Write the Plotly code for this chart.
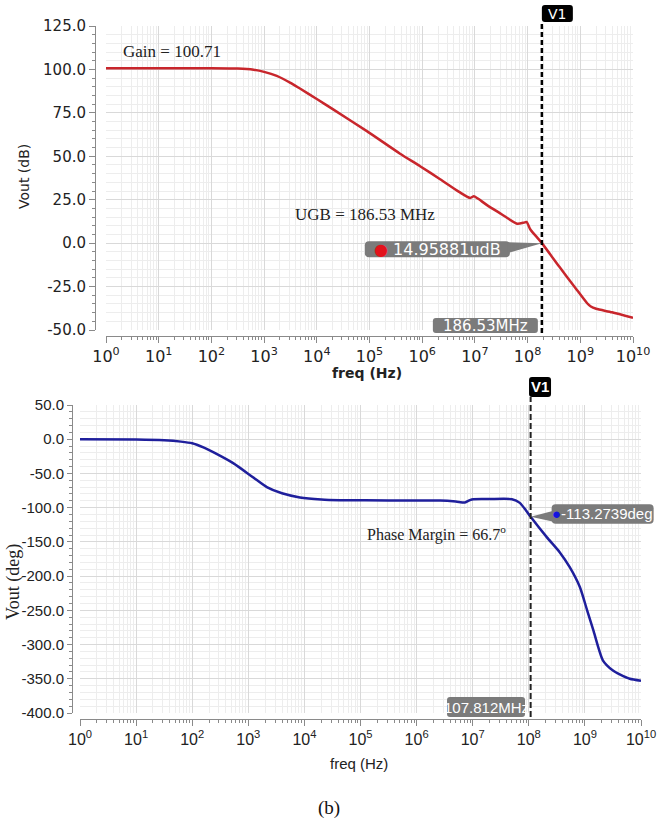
import math
import plotly.graph_objects as go

W, H = 668, 823

# ---------------- data ----------------
# magnitude response: log10(frequency / Hz) and gain in dB
gain_log_f = [0.0, 1.0, 2.0, 2.5, 2.8, 3.0, 3.24, 3.5, 3.68, 4.0, 4.31, 4.95, 5.58,
              5.96, 6.34, 6.7, 6.91, 6.98, 7.05, 7.23, 7.5, 7.8, 7.93, 7.98, 8.05,
              8.15, 8.2708, 8.6, 8.9, 9.13, 9.2, 9.3, 9.6, 10.0]
gain_db = [100.71, 100.71, 100.7, 100.5, 99.8, 98.6, 96.3, 92.3, 89.0, 83.0, 77.0,
           64.5, 51.5, 44.3, 36.8, 29.5, 26.0, 27.0, 25.8, 21.9, 16.8, 11.2, 11.8,
           12.2, 8.0, 4.3, 14.95881e-6, -13.5, -25.5, -34.6, -36.5, -37.8, -39.8, -43.0]

# phase response: log10(frequency / Hz) and phase in degrees
phase_log_f = [0.0, 1.0, 1.5, 1.8, 2.0, 2.2, 2.4, 2.73, 3.09, 3.33, 3.6, 3.92, 4.3, 4.63,
               5.5, 6.42, 6.7, 6.86, 6.95, 7.01, 7.3, 7.7, 7.84, 7.95, 8.0327, 8.32,
               8.55, 8.73, 8.91, 9.04, 9.15, 9.32, 9.5, 9.63, 9.8, 10.0]
phase_deg = [0.0, -0.4, -1.5, -3.5, -6.0, -12.0, -20.0, -35.0, -56.0, -70.0, -79.0, -85.0,
             -88.0, -89.0, -89.5, -89.5, -91.0, -92.5, -89.0, -87.6, -87.4, -87.6,
             -93.0, -104.0, -113.2739, -143.0, -165.0, -187.0, -216.0, -250.0, -279.0,
             -323.0, -338.0, -344.0, -350.0, -353.0]

# cursor readouts
ugb_hz = 186.53e6
ugb_gain_db = 14.95881e-6
pm_freq_hz = 107.812e6
pm_phase_deg = -113.2739
dc_gain_db = 100.71
phase_margin_deg = 66.7

decades = list(range(0, 11))
decade_vals = [10 ** d for d in decades]
decade_text = ["10<sup>%d</sup>" % d for d in decades]

gain_ticks = [-50, -25, 0, 25, 50, 75, 100, 125]
phase_ticks = [-400, -350, -300, -250, -200, -150, -100, -50, 0, 50]

gain_f = [10 ** v for v in gain_log_f]
phase_f = [10 ** v for v in phase_log_f]

GAIN_RANGE = [-50, 125]
PHASE_RANGE = [-400, 50]
F_RANGE = [0, 10]


def px(x):
    return x / W


def py(y):
    return 1 - y / H


top_xd = [px(106), px(633)]
top_yd = [py(330), py(26)]
bot_xd = [px(80), px(641)]
bot_yd = [py(713), py(405)]


def bot_paper(freq, val):
    """Paper position of a phase-plot data point."""
    fx = (math.log10(freq) - F_RANGE[0]) / (F_RANGE[1] - F_RANGE[0])
    fy = (val - PHASE_RANGE[0]) / (PHASE_RANGE[1] - PHASE_RANGE[0])
    return (bot_xd[0] + fx * (bot_xd[1] - bot_xd[0]),
            bot_yd[0] + fy * (bot_yd[1] - bot_yd[0]))


def rbox(x0, x1, y0, y1, r):
    return ("M {a},{y0} L {b},{y0} Q {x1},{y0} {x1},{c} L {x1},{d} Q {x1},{y1} {b},{y1} "
            "L {a},{y1} Q {x0},{y1} {x0},{d} L {x0},{c} Q {x0},{y0} {a},{y0} Z").format(
        a=x0 + r, b=x1 - r, c=y0 + r, d=y1 - r, x0=x0, x1=x1, y0=y0, y1=y1)


RED = "#c8262c"
BLUE = "#1f1f9c"
GRID = "#d9d9d9"
MINOR = "#ededed"
AX = "#8a8a8a"
BOXC = "#7b7b7b"
SANS_TOP = "DejaVu Sans"
SANS_BOT = "Liberation Sans Narrow, Liberation Sans, Arial"
SERIF = "Liberation Serif, Times New Roman"

fig = go.Figure()
fig.add_trace(go.Scatter(x=gain_f, y=gain_db, mode="lines", xaxis="x", yaxis="y",
                         line=dict(color=RED, width=2.5, shape="spline", smoothing=0.6),
                         hoverinfo="skip", showlegend=False))
fig.add_trace(go.Scatter(x=phase_f, y=phase_deg, mode="lines", xaxis="x2", yaxis="y2",
                         line=dict(color=BLUE, width=2.5, shape="spline", smoothing=0.6),
                         hoverinfo="skip", showlegend=False))
# carriers for the offset tick axes
fig.add_trace(go.Scatter(x=[1], y=[0], mode="markers", xaxis="x3", yaxis="y3",
                         marker=dict(opacity=0), hoverinfo="skip", showlegend=False))
fig.add_trace(go.Scatter(x=[1], y=[0], mode="markers", xaxis="x4", yaxis="y4",
                         marker=dict(opacity=0), hoverinfo="skip", showlegend=False))

grid_x = dict(type="log", range=F_RANGE, dtick=1, showgrid=True, gridcolor=GRID, gridwidth=1,
              minor=dict(dtick="D1", showgrid=True, gridcolor=MINOR, gridwidth=1),
              showticklabels=False, ticks="", zeroline=False, showline=False)

fig.update_layout(
    width=W, height=H, margin=dict(l=0, r=0, t=0, b=0, pad=0, autoexpand=False),
    paper_bgcolor="white", plot_bgcolor="white", showlegend=False,
    xaxis=dict(grid_x, domain=top_xd, anchor="y"),
    yaxis=dict(domain=top_yd, anchor="x", range=GAIN_RANGE, dtick=25, showgrid=True,
               gridcolor=GRID, minor=dict(dtick=5, showgrid=True, gridcolor=MINOR),
               showticklabels=False, ticks="", zeroline=False),
    xaxis2=dict(grid_x, domain=bot_xd, anchor="y2"),
    yaxis2=dict(domain=bot_yd, anchor="x2", range=PHASE_RANGE, dtick=50, showgrid=True,
                gridcolor=GRID, minor=dict(dtick=10, showgrid=True, gridcolor=MINOR),
                showticklabels=False, ticks="", zeroline=False),
    xaxis3=dict(type="log", range=F_RANGE, overlaying="x", anchor="free", position=py(336),
                side="bottom", showline=True, linecolor=AX, linewidth=1, ticks="outside",
                ticklen=6, tickcolor=AX, tickmode="array", tickvals=decade_vals,
                ticktext=decade_text, tickfont=dict(family=SANS_TOP, size=16, color="#222"),
                minor=dict(dtick="D1", ticks="outside", ticklen=3, tickcolor=AX),
                showgrid=False, zeroline=False),
    yaxis3=dict(range=GAIN_RANGE, overlaying="y", anchor="free", position=px(95), side="left",
                showline=True, linecolor=AX, linewidth=1, ticks="outside", ticklen=6,
                tickcolor=AX, tickmode="array", tickvals=gain_ticks,
                ticktext=["%.1f" % v for v in gain_ticks],
                tickfont=dict(family=SANS_TOP, size=15, color="#222"),
                minor=dict(dtick=5, tick0=0, ticks="outside", ticklen=3, tickcolor=AX),
                showgrid=False, zeroline=False),
    xaxis4=dict(type="log", range=F_RANGE, overlaying="x2", anchor="free", position=py(719),
                side="bottom", showline=True, linecolor=AX, linewidth=1, ticks="outside",
                ticklen=6, tickcolor=AX, tickmode="array", tickvals=decade_vals,
                ticktext=decade_text, tickfont=dict(family=SANS_BOT, size=16, color="#222"),
                minor=dict(dtick="D1", ticks="outside", ticklen=3, tickcolor=AX),
                showgrid=False, zeroline=False),
    yaxis4=dict(range=PHASE_RANGE, overlaying="y2", anchor="free", position=px(72), side="left",
                showline=True, linecolor=AX, linewidth=1, ticks="outside", ticklen=5,
                tickcolor=AX, tickmode="array", tickvals=phase_ticks,
                ticktext=["%.1f" % v for v in phase_ticks],
                tickfont=dict(family=SANS_BOT, size=15, color="#222"),
                minor=dict(dtick=10, tick0=0, ticks="outside", ticklen=3, tickcolor=AX),
                showgrid=False, zeroline=False),
)

shapes = []
ann = []


def label(**kw):
    kw.setdefault("showarrow", False)
    kw.setdefault("xanchor", "center")
    kw.setdefault("yanchor", "middle")
    ann.append(kw)


# ---- magnitude plot cursor ----
ugb_log = math.log10(ugb_hz)
shapes.append(dict(type="line", xref="x", yref="paper", x0=ugb_hz, x1=ugb_hz,
                   y0=py(333), y1=py(22), line=dict(color="black", width=2.5, dash="5px,3px")))
shapes.append(dict(type="path", xref="x", yref="paper", xsizemode="pixel", ysizemode="pixel",
                   xanchor=ugb_hz, yanchor=py(22), path=rbox(0, 31, 0, 17, 3),
                   fillcolor="black", line=dict(width=0)))
label(xref="x", yref="paper", x=ugb_log, y=py(13.5), xshift=15.5, text="V1",
      font=dict(family=SANS_TOP, size=14, color="white"))
shapes.append(dict(type="path", xref="x", yref="paper", xsizemode="pixel", ysizemode="pixel",
                   xanchor=ugb_hz, yanchor=py(333), path=rbox(-109, -4, 0, 15, 3),
                   fillcolor=BOXC, line=dict(width=0)))
label(xref="x", yref="paper", x=ugb_log, y=py(325.5), xshift=-56.5,
      text="%.2fMHz" % (ugb_hz / 1e6), font=dict(family=SANS_TOP, size=15, color="white"))
# value callout
shapes.append(dict(type="path", xref="x", yref="y", xsizemode="pixel", ysizemode="pixel",
                   xanchor=ugb_hz, yanchor=ugb_gain_db, path=rbox(-177, -32, -14, 2, 4),
                   fillcolor=BOXC, line=dict(width=0)))
shapes.append(dict(type="path", xref="x", yref="y", xsizemode="pixel", ysizemode="pixel",
                   xanchor=ugb_hz, yanchor=ugb_gain_db, path="M -34,1 L 0,0 L -34,-10 Z",
                   fillcolor=BOXC, line=dict(width=0)))
label(xref="x", yref="y", x=ugb_log, y=ugb_gain_db, xshift=-104.5, yshift=-6,
      text="<span style='color:#e3121b'>\u25cf</span> %.5fudB" % (ugb_gain_db * 1e6),
      font=dict(family=SANS_TOP, size=16, color="white"))

# ---- phase plot cursor ----
pm_log = math.log10(pm_freq_hz)
shapes.append(dict(type="line", xref="x2", yref="paper", x0=pm_freq_hz, x1=pm_freq_hz,
                   y0=py(717), y1=py(397), line=dict(color="#222", width=2, dash="6px,3px")))
shapes.append(dict(type="path", xref="x2", yref="paper", xsizemode="pixel", ysizemode="pixel",
                   xanchor=pm_freq_hz, yanchor=py(397), path=rbox(-1.6, 20.4, 0, 20, 3),
                   fillcolor="black", line=dict(width=0)))
label(xref="x2", yref="paper", x=pm_log, y=py(387), xshift=9.5, text="<b>V1</b>",
      font=dict(family=SANS_BOT, size=15, color="white"))
shapes.append(dict(type="path", xref="x2", yref="paper", xsizemode="pixel", ysizemode="pixel",
                   xanchor=pm_freq_hz, yanchor=py(717), path=rbox(-83.6, -5.6, 0, 20, 3),
                   fillcolor=BOXC, line=dict(width=0)))
label(xref="x2", yref="paper", x=pm_log, y=py(707), xshift=-44.6,
      text="%.3fMHz" % (pm_freq_hz / 1e6), font=dict(family=SANS_BOT, size=15, color="white"))
# value callout (reaches past the plot edge, so it is placed in paper space)
tip_x, tip_y = bot_paper(pm_freq_hz, pm_phase_deg)
shapes.append(dict(type="path", xref="paper", yref="paper", xsizemode="pixel",
                   ysizemode="pixel", xanchor=tip_x, yanchor=tip_y,
                   path=rbox(21, 123, -7, 12.5, 4), fillcolor=BOXC, line=dict(width=0)))
shapes.append(dict(type="path", xref="paper", yref="paper", xsizemode="pixel",
                   ysizemode="pixel", xanchor=tip_x, yanchor=tip_y,
                   path="M 23,6 L 0,0 L 23,-5 Z", fillcolor=BOXC, line=dict(width=0)))
label(xref="paper", yref="paper", x=tip_x, y=tip_y, xshift=72, yshift=3,
      text="<span style='color:#1414e0'>\u25cf</span>%.4fdeg" % pm_phase_deg,
      font=dict(family=SANS_BOT, size=15, color="white"))

# ---- text labels ----
label(xref="paper", yref="paper", x=px(121), y=py(52), xanchor="left",
      text="Gain = %.2f" % dc_gain_db, font=dict(family=SERIF, size=17, color="#222"))
label(xref="paper", yref="paper", x=px(293), y=py(214), xanchor="left",
      text="UGB = %.2f MHz" % (ugb_hz / 1e6), font=dict(family=SERIF, size=17, color="#222"))
label(xref="paper", yref="paper", x=px(365), y=py(533), xanchor="left",
      text="Phase Margin = %.1f<sup>o</sup>" % phase_margin_deg,
      font=dict(family=SERIF, size=16, color="#222"))
label(xref="paper", yref="paper", x=px(24), y=py(177), text="Vout (dB)", textangle=-90,
      font=dict(family=SANS_TOP, size=14, color="#222"))
label(xref="paper", yref="paper", x=px(367), y=py(373), text="<b>freq (Hz)</b>",
      font=dict(family=SANS_TOP, size=14, color="#222"))
label(xref="paper", yref="paper", x=px(13), y=py(582), text="Vout (deg)", textangle=-90,
      font=dict(family=SERIF, size=18, color="#222"))
label(xref="paper", yref="paper", x=px(359), y=py(763), text="freq (Hz)",
      font=dict(family=SANS_BOT, size=15, color="#222"))
label(xref="paper", yref="paper", x=px(329), y=py(808), text="(b)",
      font=dict(family=SERIF, size=19, color="#111"))

fig.update_layout(shapes=shapes, annotations=ann)
fig.write_html("out.html")
